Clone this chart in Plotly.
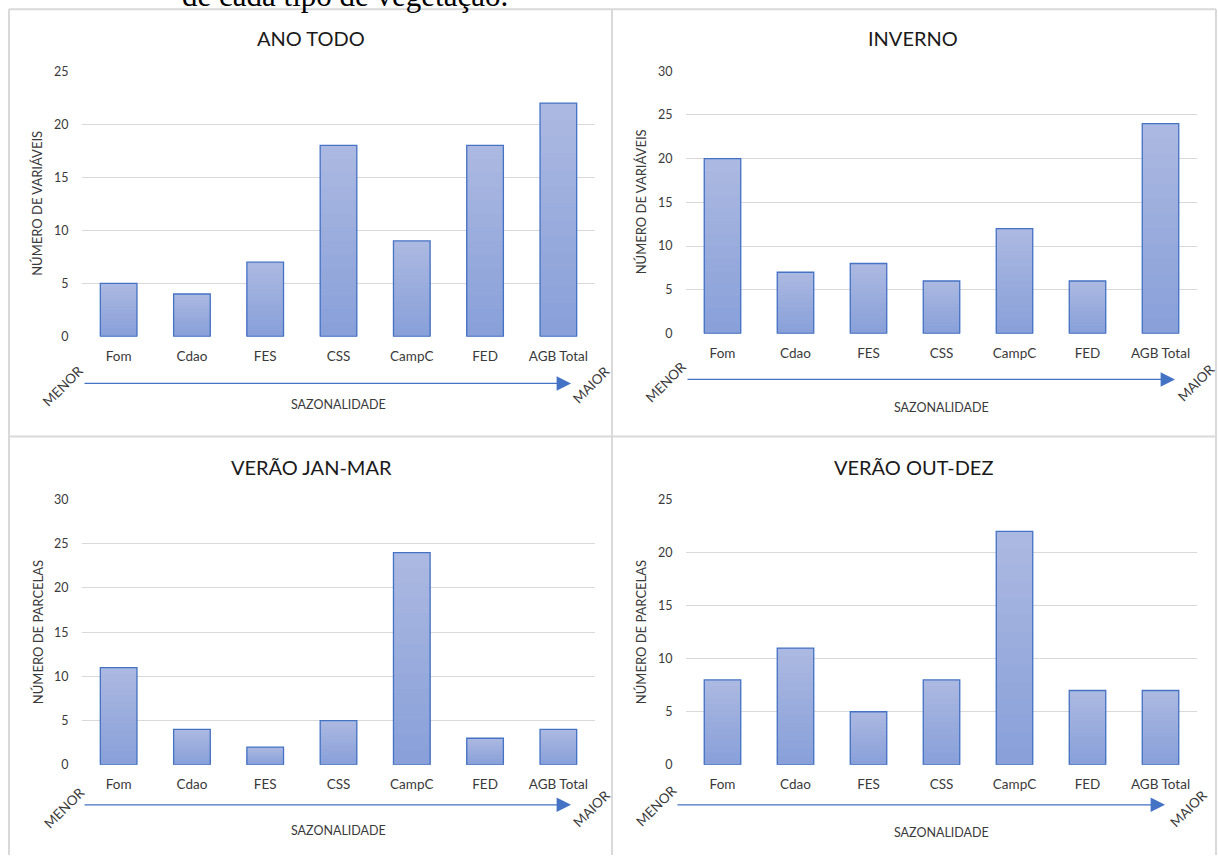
import plotly.graph_objects as go

W, H = 1218, 862

categories = ["Fom", "Cdao", "FES", "CSS", "CampC", "FED", "AGB Total"]

ano_todo = [5, 4, 7, 18, 9, 18, 22]
inverno = [20, 7, 8, 6, 12, 6, 24]
verao_jan_mar = [11, 4, 2, 5, 24, 3, 4]
verao_out_dez = [8, 11, 5, 8, 22, 7, 7]

titles = ["ANO TODO", "INVERNO", "VERÃO JAN-MAR", "VERÃO OUT-DEZ"]
y_titles = ["NÚMERO DE VARIÁVEIS", "NÚMERO DE VARIÁVEIS",
            "NÚMERO DE PARCELAS", "NÚMERO DE PARCELAS"]
y_max = [25, 30, 30, 25]
series = [ano_todo, inverno, verao_jan_mar, verao_out_dez]

FONT = "Lato, 'Open Sans', sans-serif"
TEXT = "#3a3a3a"
GRID = "#d9d9d9"
EDGE = "#4472C4"
TOP_RGB = (171, 184, 225)
BOT_RGB = (137, 160, 217)
STEPS = 14

# the page body keeps an 8px margin, so the vertical layout is set on a
# slightly taller page and mapped back to figure pixels here
PAGE_H = H + 16


def px(x):
    return x / W


def py(y):
    yd = y * PAGE_H / H - 8
    return 1 - yd / H


# panel layout in page pixels: plot box (left, right, top, bottom), title
# centre, arrow (tail x, head x, y), label spots
panels = [
    dict(box=(82, 595, 71, 336), title=(311, 37.5), arrow=(83, 571, 383),
         saz=404, menor=(63, 386), maior=(591, 385), ytitle=37),
    dict(box=(686, 1197, 71, 333), title=(913, 37.5), arrow=(686, 1175, 379),
         saz=407, menor=(666, 382), maior=(1196, 383), ytitle=641),
    dict(box=(82, 595, 499, 764), title=(311, 466), arrow=(83, 571, 804),
         saz=830, menor=(64, 807), maior=(591, 808), ytitle=38),
    dict(box=(686, 1197, 499, 764), title=(913, 466), arrow=(676, 1165, 804),
         saz=832, menor=(656, 805), maior=(1188, 808), ytitle=641),
]

fig = go.Figure()
annotations = []
layout_axes = {}

for i, (vals, p) in enumerate(zip(series, panels)):
    n = "" if i == 0 else str(i + 1)
    xa, ya = "x" + n, "y" + n
    left, right, top, bottom = p["box"]

    # stepped vertical gradient: full bar in the lightest tone, then shorter
    # bars in darker tones laid over it
    for k in range(STEPS):
        frac = (STEPS - k) / STEPS
        t = k / (STEPS - 1)
        rgb = tuple(round(a + (b - a) * t) for a, b in zip(TOP_RGB, BOT_RGB))
        fig.add_trace(go.Bar(
            x=categories, y=[v * frac for v in vals], xaxis=xa, yaxis=ya,
            marker=dict(color="rgb(%d,%d,%d)" % rgb, line=dict(width=0)),
            hoverinfo="skip", showlegend=False))
    fig.add_trace(go.Bar(
        x=categories, y=vals, xaxis=xa, yaxis=ya,
        marker=dict(color="rgba(0,0,0,0)", line=dict(color=EDGE, width=1.3)),
        hoverinfo="skip", showlegend=False))

    layout_axes["xaxis" + n] = dict(
        domain=[px(left), px(right)], anchor=ya, type="category",
        showgrid=False, zeroline=False, showline=False,
        ticks="outside", ticklen=7, tickcolor="rgba(0,0,0,0)",
        tickfont=dict(family=FONT, size=13.5, color=TEXT), fixedrange=True)
    layout_axes["yaxis" + n] = dict(
        domain=[py(bottom), py(top)], anchor=xa, range=[0, y_max[i]],
        dtick=5, showgrid=True, gridcolor=GRID, gridwidth=1,
        zeroline=False, showline=False,
        ticks="outside", ticklen=10, tickcolor="rgba(0,0,0,0)",
        tickfont=dict(family=FONT, size=12.5, color=TEXT), fixedrange=True)

    tx, ty = p["title"]
    annotations.append(dict(
        text=titles[i], x=px(tx), y=py(ty), xref="paper", yref="paper",
        showarrow=False, font=dict(family=FONT, size=20, color="#1a1a1a"),
        xanchor="center", yanchor="middle"))
    annotations.append(dict(
        text=y_titles[i], x=px(p["ytitle"]), y=py((top + bottom) / 2),
        xref="paper", yref="paper", showarrow=False, textangle=-90,
        font=dict(family=FONT, size=13, color=TEXT),
        xanchor="center", yanchor="middle"))

    tail, head, ay = p["arrow"]
    annotations.append(dict(
        text="", x=px(head), y=py(ay), xref="paper", yref="paper",
        ax=tail - head, ay=0, showarrow=True, arrowhead=2, arrowsize=2.4,
        arrowwidth=1.2, arrowcolor=EDGE))
    annotations.append(dict(
        text="SAZONALIDADE", x=px((left + right) / 2), y=py(p["saz"]),
        xref="paper", yref="paper", showarrow=False,
        font=dict(family=FONT, size=12.5, color=TEXT),
        xanchor="center", yanchor="middle"))
    for word, key in (("MENOR", "menor"), ("MAIOR", "maior")):
        cx, cy = p[key]
        annotations.append(dict(
            text=word, x=px(cx), y=py(cy), xref="paper", yref="paper",
            showarrow=False, textangle=-45,
            font=dict(family=FONT, size=13.5, color=TEXT),
            xanchor="center", yanchor="middle"))

# running text of the page above the table
annotations.append(dict(
    text="de cada tipo de vegetação.", x=px(180), y=1 - 7 / H,
    xref="paper", yref="paper", showarrow=False, xanchor="left",
    yanchor="bottom",
    font=dict(family="'Liberation Serif', 'Times New Roman', serif",
              size=31, color="#000000")))

# table cell borders
border = dict(color="#d9d9d9", width=2)
shapes = [
    dict(type="line", xref="paper", yref="paper", x0=px(9), x1=px(1216),
         y0=py(9), y1=py(9), line=border),
    dict(type="line", xref="paper", yref="paper", x0=px(9), x1=px(1216),
         y0=py(436), y1=py(436), line=border),
    dict(type="line", xref="paper", yref="paper", x0=px(9), x1=px(9),
         y0=py(9), y1=0, line=border),
    dict(type="line", xref="paper", yref="paper", x0=px(612), x1=px(612),
         y0=py(9), y1=0, line=border),
    dict(type="line", xref="paper", yref="paper", x0=px(1216), x1=px(1216),
         y0=py(9), y1=0, line=border),
]

fig.update_layout(
    width=W, height=H, margin=dict(l=0, r=0, t=0, b=0),
    paper_bgcolor="white", plot_bgcolor="white",
    barmode="overlay", bargap=0.5,
    annotations=annotations, shapes=shapes, showlegend=False,
    **layout_axes)

fig.write_html("out.html", config={"displayModeBar": False})
